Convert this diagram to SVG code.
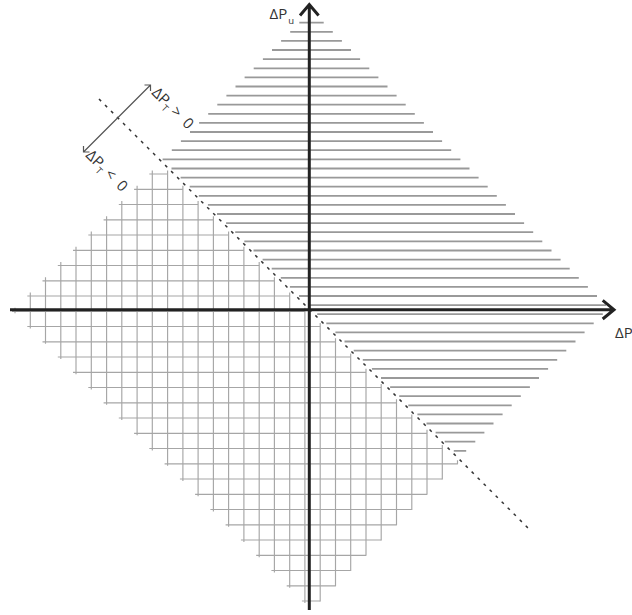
<svg xmlns="http://www.w3.org/2000/svg" width="632" height="615" viewBox="0 0 632 615">
<style>
.hatch{fill:none;stroke:#999;stroke-width:1.8}
.grid{fill:none;stroke:#a6a6a6;stroke-width:1.15}
.axis{fill:none;stroke:#222;stroke-width:3}
.dash{fill:none;stroke:#333;stroke-width:1.5;stroke-dasharray:3 5.5}
.thin{fill:none;stroke:#555;stroke-width:1.2}
text{font-family:"Open Sans","Liberation Sans",sans-serif;font-size:15px;fill:#333}
</style>
<rect width="632" height="615" fill="#fff"/>
<g id="hatch-region">
<path class="hatch" d="M299.3 22.7H323.7M290.2 31.8H332.8M281.1 40.9H341.9M272 50H351M262.9 59.1H360.1M253.7 68.3H369.3M244.6 77.4H378.4M235.5 86.5H387.5M226.4 95.6H396.6M217.3 104.7H405.7M208.2 113.8H414.8M199.1 122.9H423.9M190 132H433M180.9 141.1H442.1M171.8 150.2H451.2M162.6 159.4H460.4M171.5 168.5H469.5M180.6 177.6H478.6M189.7 186.7H487.7M198.8 195.8H496.8M207.9 204.9H505.9M217 214H515M226.1 223.1H524.1M235.2 232.2H533.2M244.3 241.3H542.3M253.5 250.5H551.5M262.6 259.6H560.6M271.7 268.7H569.7M280.8 277.8H578.8M289.9 286.9H587.9M299 296H597M308.1 305.1H606.1M317.2 314.2H602.8M326.3 323.3H593.7M335.4 332.4H584.6M344.5 341.5H575.5M353.7 350.7H566.3M362.8 359.8H557.2M371.9 368.9H548.1M381 378H539M390.1 387.1H529.9M399.2 396.2H520.8M408.3 405.3H511.7M417.4 414.4H502.6M426.5 423.5H493.5M435.6 432.6H484.4M444.7 441.7H475.3M453.8 450.8H466.2"/>
</g>
<g id="grid-region">
<path class="grid" d="M149.3 174H167.6M134.1 189.3H182.9M118.8 204.5H198.1M103.6 219.8H213.4M88.3 235H228.6M73 250.3H243.9M57.8 265.5H259.2M42.5 280.8H274.4M27.3 296H289.7M12 311.3H304.9M27.3 326.5H320.2M42.5 341.8H335.5M57.8 357H350.7M73 372.3H366M88.3 387.5H381.2M103.6 402.8H396.5M118.8 418H411.8M134.1 433.3H427M149.3 448.5H442.3M164.6 463.8H457.5M179.9 479H442.3M195.1 494.3H427M210.4 509.5H411.8M225.6 524.8H396.5M240.9 540H381.2M256.2 555.3H366M271.4 570.5H350.7M286.7 585.8H335.5M301.9 601H320.2"/>
<path class="grid" d="M15 307.8V313.3M30.3 292.5V328.5M45.5 277.3V343.8M60.8 262V359M76 246.8V374.3M91.3 231.5V389.5M106.6 216.3V404.8M121.8 201V420M137.1 185.8V435.3M152.3 170.5V450.5M167.6 170.5V465.8M182.9 185.8V481M198.1 201V496.3M213.4 216.3V511.5M228.6 231.5V526.8M243.9 246.8V542M259.2 262V557.3M274.4 277.3V572.5M289.7 292.5V587.8M304.9 307.8V603M320.2 323V601.5M335.5 338.3V586.3M350.7 353.5V571M366 368.8V555.8M381.2 384V540.5M396.5 399.3V525.3M411.8 414.5V510M427 429.8V494.8M442.3 445V479.5M457.5 460.3V464.3"/>
</g>
<g id="connectors">
<path id="boundary" class="dash" d="M99 99L529 529"/>
<path id="direction-arrow" class="thin" d="M83.5 152L150.5 85M144.5 85H150.5V91M83.5 146V152H89.5"/>
</g>
<g id="axes">
<path id="axis-x" class="axis" d="M10 309.7H613M602.7 300.4L614 309.7L602.7 319"/>
<path id="axis-y" class="axis" d="M309.3 610V5M300 15.5L309.3 4.5L318.6 15.5"/>
</g>
<g id="labels">
<text id="label-pu" x="269.5" y="19">ΔP<tspan font-size="9.5" dx="1" dy="5">u</tspan></text>
<text id="label-px" x="615" y="337.5">ΔP</text>
<text id="label-pos" transform="translate(151 93.5) rotate(45)">ΔP<tspan font-size="9.5" dy="4">T</tspan><tspan dy="-4" dx="4">&gt;</tspan><tspan dx="7.5">0</tspan></text>
<text id="label-neg" transform="translate(85 156) rotate(45)">ΔP<tspan font-size="9.5" dy="4">T</tspan><tspan dy="-4" dx="4">&lt;</tspan><tspan dx="7.5">0</tspan></text>
</g>
</svg>
